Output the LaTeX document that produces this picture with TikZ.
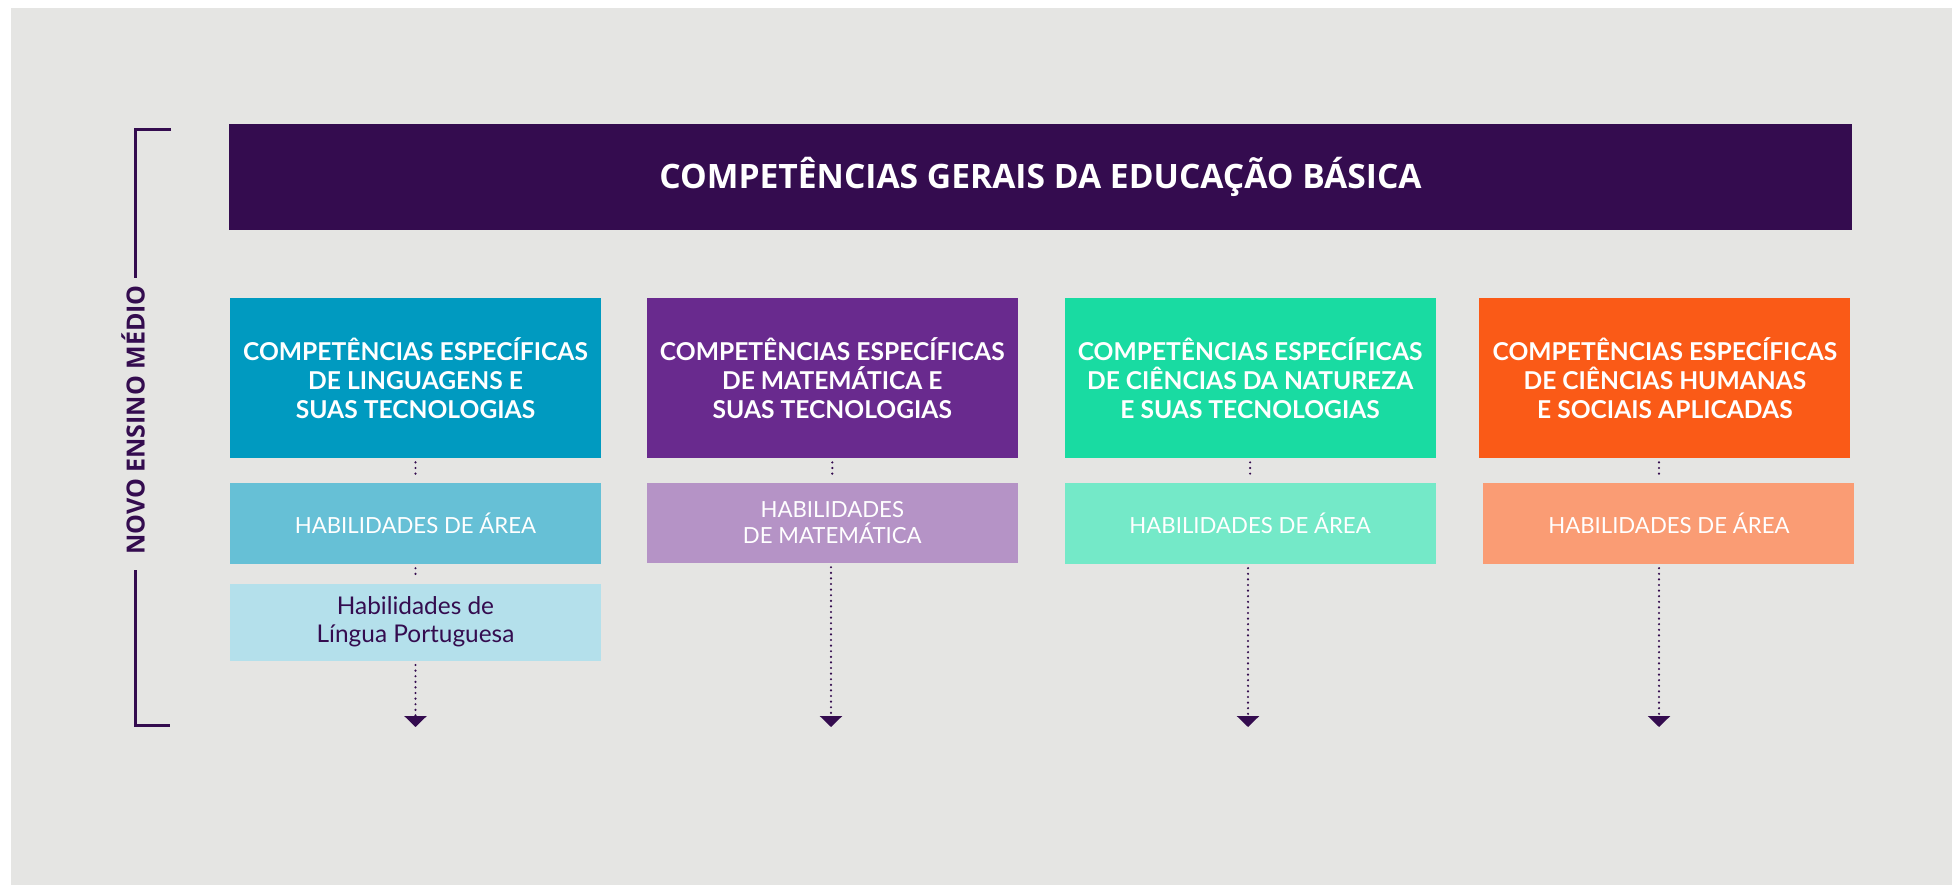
\documentclass[tikz,border=0pt]{standalone}
\usepackage{fontspec}
\setmainfont{Lato}
\newfontfamily\opensans{Open Sans}
\usepackage{xcolor}
\usepackage{tikz}
\usetikzlibrary{arrows.meta,positioning}
\definecolor{fundo}{HTML}{E5E5E3}
\definecolor{roxo}{HTML}{340C4F}
\definecolor{azul}{HTML}{009AC0}
\definecolor{violeta}{HTML}{692A8E}
\definecolor{verde}{HTML}{19DBA2}
\definecolor{laranja}{HTML}{FA5A17}
\definecolor{azulclaro}{HTML}{66C0D6}
\definecolor{violetaclaro}{HTML}{B593C6}
\definecolor{verdeclaro}{HTML}{74E9C8}
\definecolor{laranjaclaro}{HTML}{FA9C74}
\definecolor{azulpalido}{HTML}{B4E0EB}

\begin{document}
\begin{tikzpicture}[x=0.5pt,y=-0.5pt,
	caixa/.style={minimum width=185.5pt,minimum height=80pt,inner sep=0pt,align=center,text=white,font=\bfseries\fontsize{12.3}{14.5}\selectfont},
	habil/.style={minimum width=185.5pt,minimum height=40.5pt,inner sep=0pt,align=center,text=white,font=\fontsize{11.1}{12.8}\selectfont},
	pontos/.style={roxo,line width=1.2pt,line cap=round,dash pattern=on 0pt off 2.8pt,shorten <=2pt},
	seta/.style={-{Triangle[width=11pt,length=5.5pt]}}]
	\fill[white] (0,0) rectangle (1952,885);
	\fill[fundo] (11,8) rectangle (1952,885);
	\draw[roxo,line width=1.5pt] (171,129) -- (135,129) -- (135,278);
	\draw[roxo,line width=1.5pt] (135,570) -- (135,725) -- (170,725);
	\node[rotate=90,text=roxo,font=\opensans\bfseries\fontsize{12.5}{14}\selectfont] (rotulo) at (133,420) {NOVO ENSINO MÉDIO};
	\node[fill=roxo,minimum width=811.5pt,minimum height=53pt,text=white,font=\opensans\bfseries\fontsize{16.8}{19}\selectfont] (geral) at (1040.5,177) {COMPETÊNCIAS GERAIS DA EDUCAÇÃO BÁSICA};
	\node[caixa,fill=azul] (c1) at (415.5,378) {COMPETÊNCIAS ESPECÍFICAS\\DE LINGUAGENS E\\SUAS TECNOLOGIAS};
	\node[caixa,fill=violeta,right=22.5pt of c1] (c2) {COMPETÊNCIAS ESPECÍFICAS\\DE MATEMÁTICA E\\SUAS TECNOLOGIAS};
	\node[caixa,fill=verde,right=23pt of c2] (c3) {COMPETÊNCIAS ESPECÍFICAS\\DE CIÊNCIAS DA NATUREZA\\E SUAS TECNOLOGIAS};
	\node[caixa,fill=laranja,right=21.5pt of c3] (c4) {COMPETÊNCIAS ESPECÍFICAS\\DE CIÊNCIAS HUMANAS\\E SOCIAIS APLICADAS};
	\node[habil,fill=azulclaro,below=12pt of c1] (h1) {HABILIDADES DE ÁREA};
	\node[habil,fill=violetaclaro,below=12pt of c2,minimum height=40pt] (h2) {HABILIDADES\\DE MATEMÁTICA};
	\node[habil,fill=verdeclaro,below=12pt of c3] (h3) {HABILIDADES DE ÁREA};
	\node[habil,fill=laranjaclaro,below=12pt of c4,xshift=2pt] (h4) {HABILIDADES DE ÁREA};
	\node[habil,fill=azulpalido,text=roxo,minimum height=38.5pt,below=9.5pt of h1,font=\fontsize{12.2}{14}\selectfont] (p1) {Habilidades de\\Língua Portuguesa};
	\coordinate (s1) at (415.5,727);
	\coordinate (s2) at (831,727);
	\coordinate (s3) at (1248,727);
	\coordinate (s4) at (1659,727);
	\draw[pontos,shorten >=2pt] (c1) -- (h1);
	\draw[pontos,shorten >=2pt] (h1) -- (p1);
	\draw[pontos,seta] (p1) -- (s1);
	\draw[pontos,shorten >=2pt] (c2) -- (h2);
	\draw[pontos,seta] (h2.south -| s2) -- (s2);
	\draw[pontos,shorten >=2pt] (c3) -- (h3);
	\draw[pontos,seta] (h3.south -| s3) -- (s3);
	\draw[pontos,shorten >=2pt] (c4.south -| s4) -- (h4.north -| s4);
	\draw[pontos,seta] (h4.south -| s4) -- (s4);
\end{tikzpicture}
\end{document}
